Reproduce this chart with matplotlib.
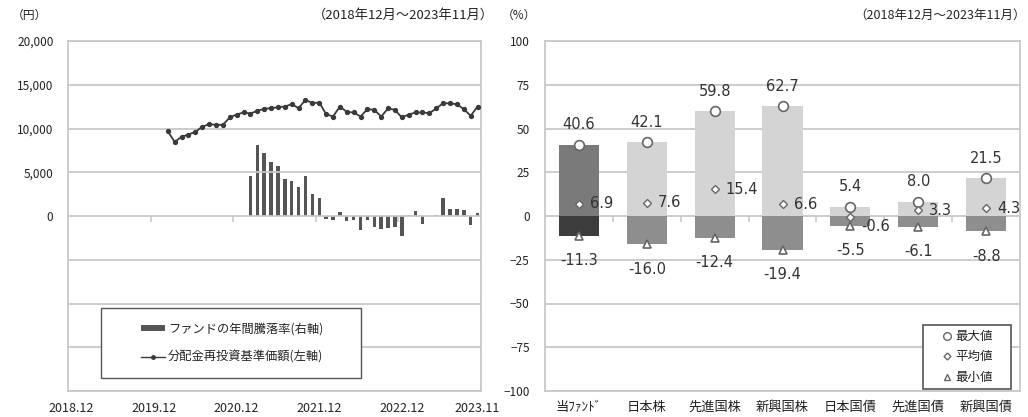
import matplotlib
matplotlib.use("Agg")
import matplotlib.pyplot as plt
from matplotlib.lines import Line2D
from matplotlib.patches import Patch, Rectangle
from matplotlib.ticker import FuncFormatter
import numpy as np

plt.rcParams['font.family'] = ['Noto Sans CJK JP', 'DejaVu Sans']

# ---------------- data ----------------
months = [f"{2018 + (11 + i) // 12}.{(11 + i) % 12 + 1:02d}" for i in range(60)]  # 2018.12 .. 2023.11
xtick_labels = ["2018.12", "2019.12", "2020.12", "2021.12", "2022.12", "2023.11"]

nav_start = "2020.02"
nav_values = [9660, 8480, 9050, 9310, 9620, 10190, 10500, 10420, 10420, 11260, 11600, 11830,
              11710, 12020, 12250, 12320, 12440, 12510, 12780, 12320, 13280, 12900, 12970, 11640,
              11370, 12510, 11900, 11830, 11370, 12210, 12130, 11370, 12290, 12130, 11260, 11600,
              11830, 11830, 11750, 12290, 12900, 12860, 12780, 12210, 11450, 12510]

ret_start = "2021.02"
ret_values = [23.1, 40.6, 35.9, 30.8, 28.5, 21.1, 19.8, 16.5, 22.7, 12.6, 10.1,
              -1.6, -2.1, 2.3, -3.1, -2.5, -8.0, -2.5, -6.0, -7.4, -6.8, -6.4,
              -11.3, 0.5, 2.7, -4.8, 0.0, 0.8, 10.5, 4.2, 4.0, 3.5, -5.0, 2.0]

categories = ["当ﾌｧﾝﾄﾞ", "日本株", "先進国株", "新興国株", "日本国債", "先進国債", "新興国債"]
max_vals = [40.6, 42.1, 59.8, 62.7, 5.4, 8.0, 21.5]
avg_vals = [6.9, 7.6, 15.4, 6.6, -0.6, 3.3, 4.3]
min_vals = [-11.3, -16.0, -12.4, -19.4, -5.5, -6.1, -8.8]

left_legend = ["ファンドの年間騰落率(右軸)", "分配金再投資基準価額(左軸)"]
right_legend = ["最大値", "平均値", "最小値"]
period_text = "（2018年12月～2023年11月）"

# ---------------- figure ----------------
W, H = 1028, 417
fig = plt.figure(figsize=(W / 100, H / 100), dpi=100)
grid_c = "#c8c8c8"
txt_c = "#222222"

def fx(px):
    return px / W

def fy(py):
    return 1 - py / H

# ---- left chart ----
axL = fig.add_axes([fx(68), fy(391), fx(481) - fx(68), fy(41) - fy(391)])
xi = np.arange(len(months))
nav_x = xi[months.index(nav_start):months.index(nav_start) + len(nav_values)]
ret_x = xi[months.index(ret_start):months.index(ret_start) + len(ret_values)]

axL.set_xlim(-0.5, len(months) - 0.5)
axL.set_ylim(-20000, 20000)
axL.set_yticks(np.arange(-20000, 20001, 5000))
axL.yaxis.set_major_formatter(FuncFormatter(lambda v, p: f"{int(v):,}" if v >= 0 else ""))
axL.grid(axis='y', color=grid_c, lw=1.3)
axL.set_axisbelow(True)
for s in axL.spines.values():
    s.set_color(grid_c)
    s.set_linewidth(1.3)
axL.tick_params(axis='y', length=0, labelsize=8.5, colors=txt_c, pad=10.5)
tick_idx = [months.index(t) for t in xtick_labels]
axL.set_xticks(tick_idx)
axL.set_xticklabels(xtick_labels)
axL.tick_params(axis='x', length=0, labelsize=9, colors=txt_c, pad=8)

axR2 = axL.twinx()
axR2.set_ylim(-100, 100)
axR2.set_yticks([])
for s in axR2.spines.values():
    s.set_visible(False)
axR2.bar(ret_x, ret_values, width=0.5, color="#555555", zorder=2)
axL.set_zorder(axR2.get_zorder() + 1)
axL.patch.set_visible(False)
axL.plot(nav_x, nav_values, color="#3a3a3a", lw=1.3, marker='o', ms=2.8, zorder=3)

# small tick marks on the zero line
sec = axL.secondary_xaxis(0.5)
sec.set_xticks(np.arange(11.5, len(months) - 1, 12))
sec.set_xticklabels([])
sec.tick_params(length=4, color=grid_c, width=1.2, direction='in')
for s in sec.spines.values():
    s.set_visible(False)

# legend box
axL.add_patch(Rectangle((0.08, 0.037), 0.63, 0.2, transform=axL.transAxes,
                        facecolor='white', edgecolor='#555555', lw=1.0, zorder=5))
hL = [Patch(facecolor="#555555", edgecolor="none"),
      Line2D([], [], color="#3a3a3a", lw=1.0, marker='o', ms=2.5)]
legL = axL.legend(hL, left_legend, loc='center left', bbox_to_anchor=(0.162, 0.137),
                  frameon=False, fontsize=8.8, handlelength=2.0, handleheight=0.4,
                  handletextpad=0.2, labelspacing=1.25, borderpad=0)
legL.set_zorder(6)
for t in legL.get_texts():
    t.set_color(txt_c)

fig.text(fx(12), fy(15), "（円）", fontsize=8.5, color=txt_c, va='center', ha='left')
fig.text(fx(494), fy(15), period_text, fontsize=9.5, color=txt_c, va='center', ha='right')

# ---- right chart ----
ax = fig.add_axes([fx(545), fy(391), fx(1020) - fx(545), fy(41) - fy(391)])
ci = np.arange(len(categories))
ax.set_xlim(-0.5, len(categories) - 0.5)
ax.set_ylim(-100, 100)
ax.set_yticks(np.arange(-100, 101, 25))
ax.grid(axis='y', color=grid_c, lw=1.3)
ax.set_axisbelow(True)
for s in ax.spines.values():
    s.set_color(grid_c)
    s.set_linewidth(1.3)
ax.tick_params(axis='y', length=0, labelsize=8.5, colors=txt_c, pad=11)
ax.set_xticks(ci)
ax.set_xticklabels(categories)
ax.tick_params(axis='x', length=0, labelsize=9.5, colors=txt_c, pad=7)

pos_colors = ["#7a7a7a"] + ["#d4d4d4"] * (len(categories) - 1)
neg_colors = ["#3c3c3c"] + ["#8e8e8e"] * (len(categories) - 1)
ax.bar(ci, max_vals, width=0.59, color=pos_colors, zorder=2)
ax.bar(ci, min_vals, width=0.59, color=neg_colors, zorder=2)

sec2 = ax.secondary_xaxis(0.5)
sec2.set_xticks(np.arange(0.5, len(categories) - 1, 1))
sec2.set_xticklabels([])
sec2.tick_params(length=4, color=grid_c, width=1.2, direction='in')
for s in sec2.spines.values():
    s.set_visible(False)

mk_edge = "#666666"
ax.plot(ci, max_vals, ls='none', marker='o', ms=7, mfc='white', mec=mk_edge, mew=1.2, zorder=4)
ax.plot(ci, avg_vals, ls='none', marker='D', ms=4, mfc='white', mec=mk_edge, mew=1.0, zorder=4)
ax.plot(ci, min_vals, ls='none', marker='^', ms=5.5, mfc='white', mec=mk_edge, mew=1.2, zorder=4)

lab_kw = dict(fontsize=10.5, color="#333333", family=['DejaVu Sans'])
for i in ci:
    ax.annotate(f"{max_vals[i]:.1f}", (i, max_vals[i]), xytext=(0, 14.5), textcoords='offset points',
                ha='center', va='center', zorder=5, **lab_kw)
    ax.annotate(f"{min_vals[i]:.1f}", (i, min_vals[i]), xytext=(0, -18), textcoords='offset points',
                ha='center', va='center', zorder=5, **lab_kw)
    dy = -7 if avg_vals[i] < 0 else 0
    ax.annotate(f"{avg_vals[i]:.1f}", (i, avg_vals[i]), xytext=(8, dy), textcoords='offset points',
                ha='left', va='center', zorder=5, **lab_kw)

# right legend: frame drawn separately, entries centred inside
ax.add_patch(Rectangle((0.796, 0.006), 0.185, 0.183, transform=ax.transAxes,
                       facecolor='white', edgecolor='#555555', lw=1.2, zorder=5))
hR = [Line2D([], [], ls='none', marker='o', ms=5.5, mfc='white', mec=mk_edge, mew=1.0),
      Line2D([], [], ls='none', marker='D', ms=3.5, mfc='white', mec=mk_edge, mew=1.0),
      Line2D([], [], ls='none', marker='^', ms=5, mfc='white', mec=mk_edge, mew=1.0)]
legR = ax.legend(hR, right_legend, loc='center', bbox_to_anchor=(0.8885, 0.0975),
                 fontsize=9, frameon=False, handlelength=1.0, handletextpad=0.2,
                 labelspacing=0.6, borderpad=0, borderaxespad=0)
legR.set_zorder(6)
for t in legR.get_texts():
    t.set_color(txt_c)

fig.text(fx(502), fy(15), "（%）", fontsize=8.5, color=txt_c, va='center', ha='left')
fig.text(fx(1026), fy(15), period_text, fontsize=9, color=txt_c, va='center', ha='right')

fig.savefig("out.png", dpi=100)
